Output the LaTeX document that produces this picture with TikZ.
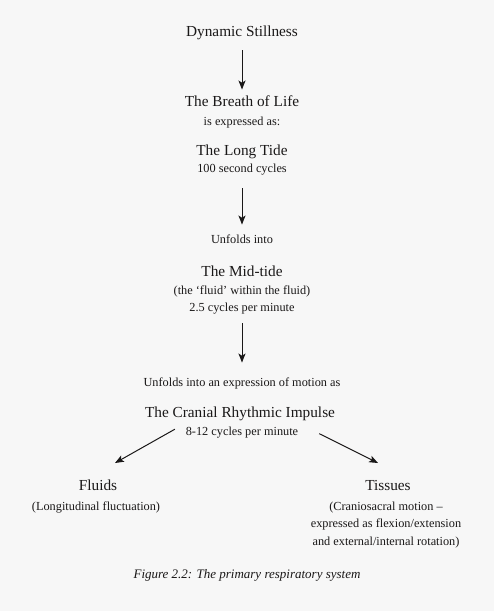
\documentclass[tikz,border=0pt]{standalone}
\usepackage{fontspec}
\setmainfont{Liberation Serif}
\usetikzlibrary{arrows.meta}
\definecolor{prink}{HTML}{1A1818}
\definecolor{prpage}{HTML}{F7F7F7}
\tikzset{
  prblock/.style={
    inner sep=2pt,
    text=prink,
    anchor=base,
    align=center
  },
  prtitle/.style={
    prblock,
    font=\fontsize{15.3}{18}\selectfont
  },
  prnote/.style={
    prblock,
    font=\fontsize{12.3}{17.5}\selectfont
  },
  prcaption/.style={
    prblock,
    font=\fontsize{13}{15}\selectfont\itshape
  },
  prarrow/.style={
    -{Stealth[length=9pt,width=7pt,inset=2.2pt]},
    line width=1pt,
    color=prink
  }
}

\begin{document}
\begin{tikzpicture}[x=1pt,y=1pt]
  \path[fill=prpage, use as bounding box] (0,0) rectangle (494,-611);

  \node[prtitle] (still) at (242,-36) {Dynamic Stillness};

  \node[prtitle] (breath) at (242,-106) {The Breath of Life};
  \node[prnote] (expressed) at (242,-125) {is expressed as:};
  \node[prtitle] (longtide) at (242,-155) {The Long Tide};
  \node[prnote] (longcycles) at (242,-172) {100 second cycles};

  \node[prnote] (unfold) at (242,-243) {Unfolds into};
  \node[prtitle] (midtide) at (242,-276) {The Mid-tide};
  \node[prnote] (midfluid) at (242,-294) {(the ‘fluid’ within the fluid)};
  \node[prnote] (midcycles) at (242,-311) {2.5 cycles per minute};

  \node[prnote] (unfoldmotion) at (242,-386) {Unfolds into an expression of motion as};
  \node[prtitle] (cri) at (240,-417) {The Cranial Rhythmic Impulse};
  \node[prnote] (speed) at (242,-435) {8-12 cycles per minute};

  \node[prtitle] (fluids) at (98,-490) {Fluids};
  \node[prnote] (fluidsnote) at (96,-510) {(Longitudinal fluctuation)};

  \node[prtitle] (tissues) at (388,-490) {Tissues};
  \node[prnote, anchor=north] (tissuesnote) at (386,-499.5) {(Craniosacral motion –\\
    expressed as flexion/extension\\
    and external/internal rotation)};

  \node[prcaption] (caption) at (247,-578) {Figure 2.2: The primary respiratory system};

  \coordinate (fluidsin) at (115,-463);
  \coordinate (tissuesin) at (378,-463);

  \draw[prarrow, shorten <=8.7pt, shorten >=3.5pt] (still.south) -- (breath.north);
  \draw[prarrow, shorten <=11.3pt, shorten >=7.6pt] (longcycles.south) -- (unfold.north);
  \draw[prarrow, shorten <=7.3pt, shorten >=12.6pt] (midcycles.south) -- (unfoldmotion.north);
  \draw[prarrow, shorten <=10pt] (speed.north west) -- (fluidsin);
  \draw[prarrow, shorten <=21pt] (speed.north east) -- (tissuesin);
\end{tikzpicture}
\end{document}
